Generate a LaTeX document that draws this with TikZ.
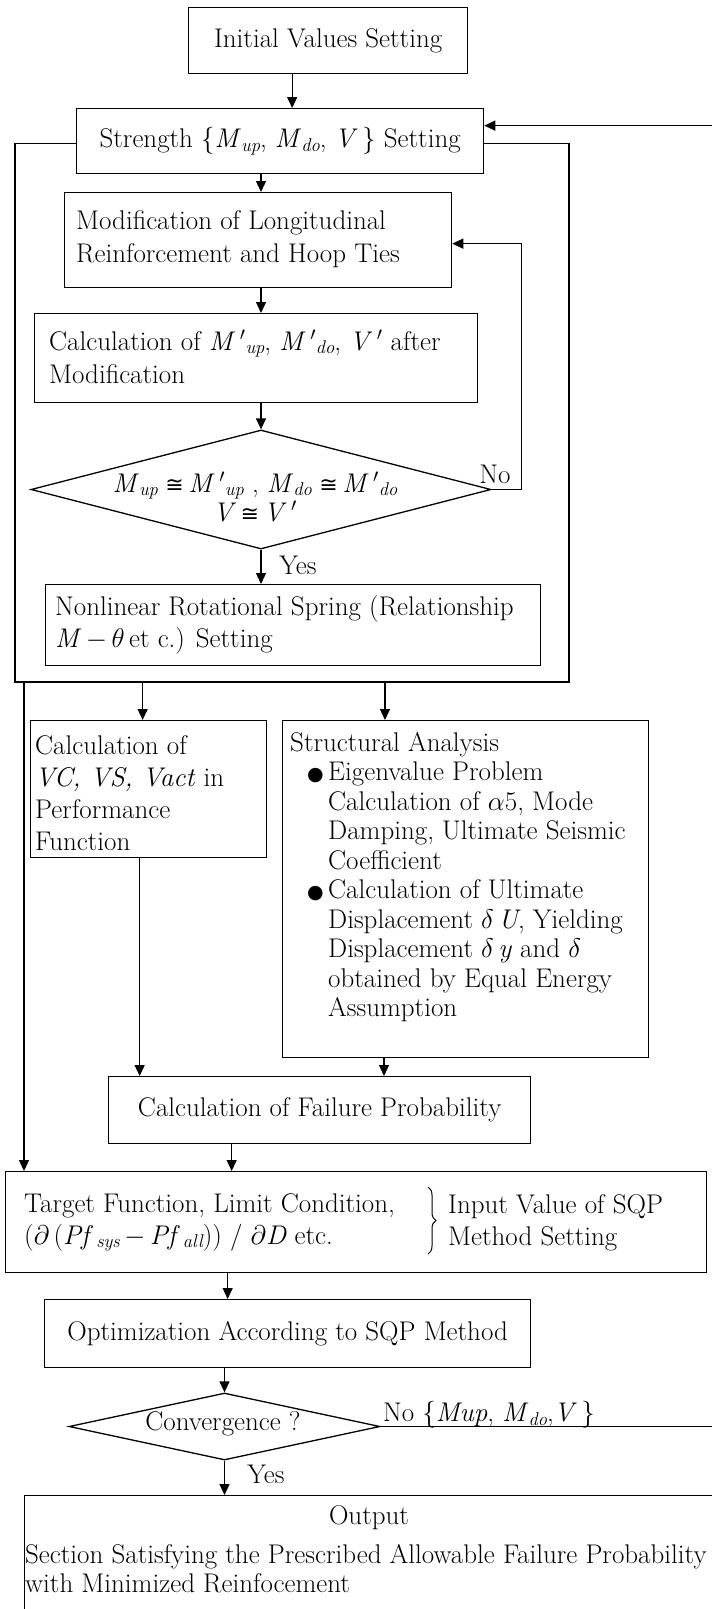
\RequirePackage{fix-cm}
\documentclass[tikz,border=0pt]{standalone}
\usepackage{fontspec}
\newfontfamily\djv{DejaVu Sans}
\usetikzlibrary{arrows.meta,shapes.geometric,decorations.pathreplacing}
\newcommand\fsb[1]{\fontsize{27}{#1}\selectfont}
\newcommand\sbs[1]{\raisebox{-0.12em}{\fontsize{18.5}{18.5}\selectfont\itshape #1}}
\newcommand\Mv[1]{\textit{M}\sbs{#1}}
\newcommand\Mp[1]{\textit{M}\,$'$\sbs{#1}}
\newcommand\cng{{\djv\fontsize{22}{22}\selectfont ≅}}
\newcommand\blt{\makebox[21pt][l]{\djv\fontsize{19}{19}\selectfont ●}}
\tikzset{
  box/.style={draw, line width=1.3pt, inner sep=0pt, anchor=north west},
  txt/.style={inner sep=0pt, align=left, anchor=west},
  lbl/.style={inner sep=0pt},
  ln/.style={line width=1.3pt},
  arr/.style={line width=1.3pt, -{Triangle[length=11pt,width=10pt]}},
  dmd/.style={draw, diamond, line width=1.3pt, inner sep=0pt},
}
\begin{document}
\begin{tikzpicture}[x=1pt,y=-1pt,font=\fsb{30}]
\useasboundingbox (0,0) rectangle (712,1609);
% boxes
\node[box, minimum width=279, minimum height=66] (init) at (188,7) {Initial Values Setting};
\node[box, minimum width=407, minimum height=65] (strength) at (76,108) {Strength \{\Mv{up}, \Mv{do}, \textit{V}\,\} Setting};
\node[box, minimum width=387, minimum height=95] (mod) at (64,192) {};
\node[txt, font=\fsb{33}] (modt) at (76,239) {Modification of Longitudinal\\Reinforcement and Hoop Ties};
\node[box, minimum width=443, minimum height=89] (calc) at (34,313) {};
\node[txt, font=\fsb{33}] (calct) at (49,357) {Calculation of \Mp{up}, \Mp{do}, \textit{V}\,$'$ after\\Modification};
\node[dmd, minimum width=460, minimum height=119] (dia) at (261,489.5) {};
\node[lbl, align=center, font=\fsb{29}] (diat) at (255,497) {\Mv{up}\;\cng\,\Mp{up} , \Mv{do}\;\cng\,\Mp{do}\\\textit{V}\,\cng\,\textit{V}\,$'$};
\node[box, minimum width=495, minimum height=81] (nrs) at (45,584) {};
\node[txt, font=\fsb{32}] (nrst) at (55,625) {Nonlinear Rotational Spring (Relationship\\\textit{M}\,$-$\,$\theta$\,et c.) Setting};
\node[box, minimum width=236, minimum height=137] (vc) at (30,720) {};
\node[txt, font=\fsb{32}] (vct) at (35,793) {Calculation of\\\textit{VC, VS, Vact} in\\Performance\\Function};
\node[box, minimum width=366, minimum height=337] (sa) at (282,720) {};
\node[txt, font=\fsb{29.5}] (sat) at (290,877) {Structural Analysis\\
\hspace*{17pt}\blt Eigenvalue Problem\\
\hspace*{38pt}Calculation of $\alpha$5, Mode\\
\hspace*{38pt}Damping, Ultimate Seismic\\
\hspace*{38pt}Coefficient\\
\hspace*{17pt}\blt Calculation of Ultimate\\
\hspace*{38pt}Displacement $\delta$\,\textit{U}, Yielding\\
\hspace*{38pt}Displacement $\delta$\,\textit{y} and $\delta$\\
\hspace*{38pt}obtained by Equal Energy\\
\hspace*{38pt}Assumption};
\node[box, minimum width=422, minimum height=67] (fp) at (108,1076) {Calculation of Failure Probability};
\node[box, minimum width=701, minimum height=101] (tgt) at (5,1171) {};
\node[txt, font=\fsb{32}] (tgtt) at (24,1222.5) {Target Function, Limit Condition,\\($\partial$\,(\textit{Pf}\sbs{\,sys}\,$-$\,\textit{Pf}\sbs{\,all})) / $\partial$\textit{D} etc.};
\coordinate (bt) at (428,1187);
\coordinate (bb) at (428,1254);
\draw[decorate, decoration={brace, amplitude=8pt}, line width=1pt] (bt) -- (bb);
\node[txt, font=\fsb{32}] (sqpt) at (448,1222.5) {Input Value of SQP\\Method Setting};
\node[box, minimum width=486, minimum height=68] (opt) at (44,1299) {Optimization According to SQP Method};
\node[dmd, minimum width=311, minimum height=67] (conv) at (224.5,1426.5) {};
\node[lbl] (convt) at (223,1424) {Convergence ?};
\node[box, minimum width=692, minimum height=140] (out) at (24,1495) {};
\node[lbl] (outt) at (369,1518) {Output};
\node[txt, font=\fsb{29}] (outs) at (25,1569) {Section Satisfying the Prescribed Allowable Failure Probability\\with Minimized Reinfocement};
% labels
\node[lbl] (no1) at (495,474) {No};
\node[lbl] (yes1) at (298,565) {Yes};
\node[lbl] (yes2) at (266,1474) {Yes};
\node[lbl, anchor=west] (no2) at (383,1415) {No \{\textit{Mup}, \Mv{do},\textit{V}\,\}};
% frame
\coordinate (fl) at (15,682);
\coordinate (fr) at (569,682);
\draw[ln] ([yshift=-2.5pt]strength.west) -| (fl) -- (fr) |- ([yshift=-2.5pt]strength.east);
% connectors
\draw[arr] ([xshift=-36pt]init.south) -- ([xshift=-36pt]init.south |- strength.north);
\draw[arr] (strength.south -| dia.north) -- (mod.north -| dia.north);
\draw[arr] (mod.south -| dia.north) -- (calc.north -| dia.north);
\draw[arr] (calc.south -| dia.north) -- (dia.north);
\draw[arr] (dia.south) -- (dia.south |- nrs.north);
\draw[arr] (dia.east) -- ++(30,0) |- ([yshift=-3.5pt]mod.east);
\draw[arr] ([xshift=-6pt]vc.north |- fl) -- ([xshift=-6pt]vc.north);
\draw[arr] ([xshift=103pt]sa.north west |- fl) -- ([xshift=103pt]sa.north west);
\draw[arr] ([xshift=19pt]tgt.north west |- fl) -- ([xshift=19pt]tgt.north west);
\draw[arr] ([xshift=-9pt]vc.south) -- ([xshift=-9pt]vc.south |- fp.north);
\draw[arr] ([xshift=102pt]sa.south west) -- ([xshift=102pt]sa.south west |- fp.north);
\draw[arr] ([xshift=-88pt]fp.south) -- ([xshift=-88pt]fp.south |- tgt.north);
\draw[arr] ([xshift=-60pt]opt.north |- tgt.south) -- ([xshift=-60pt]opt.north);
\draw[arr] (opt.south -| conv.north) -- (conv.north);
\draw[arr] (conv.south) -- (conv.south |- out.north);
\coordinate (fbr) at (714,1426);
\draw[arr] (conv.east) -- (conv.east -| fbr) |- ([yshift=15.5pt]strength.east);
\end{tikzpicture}
\end{document}
